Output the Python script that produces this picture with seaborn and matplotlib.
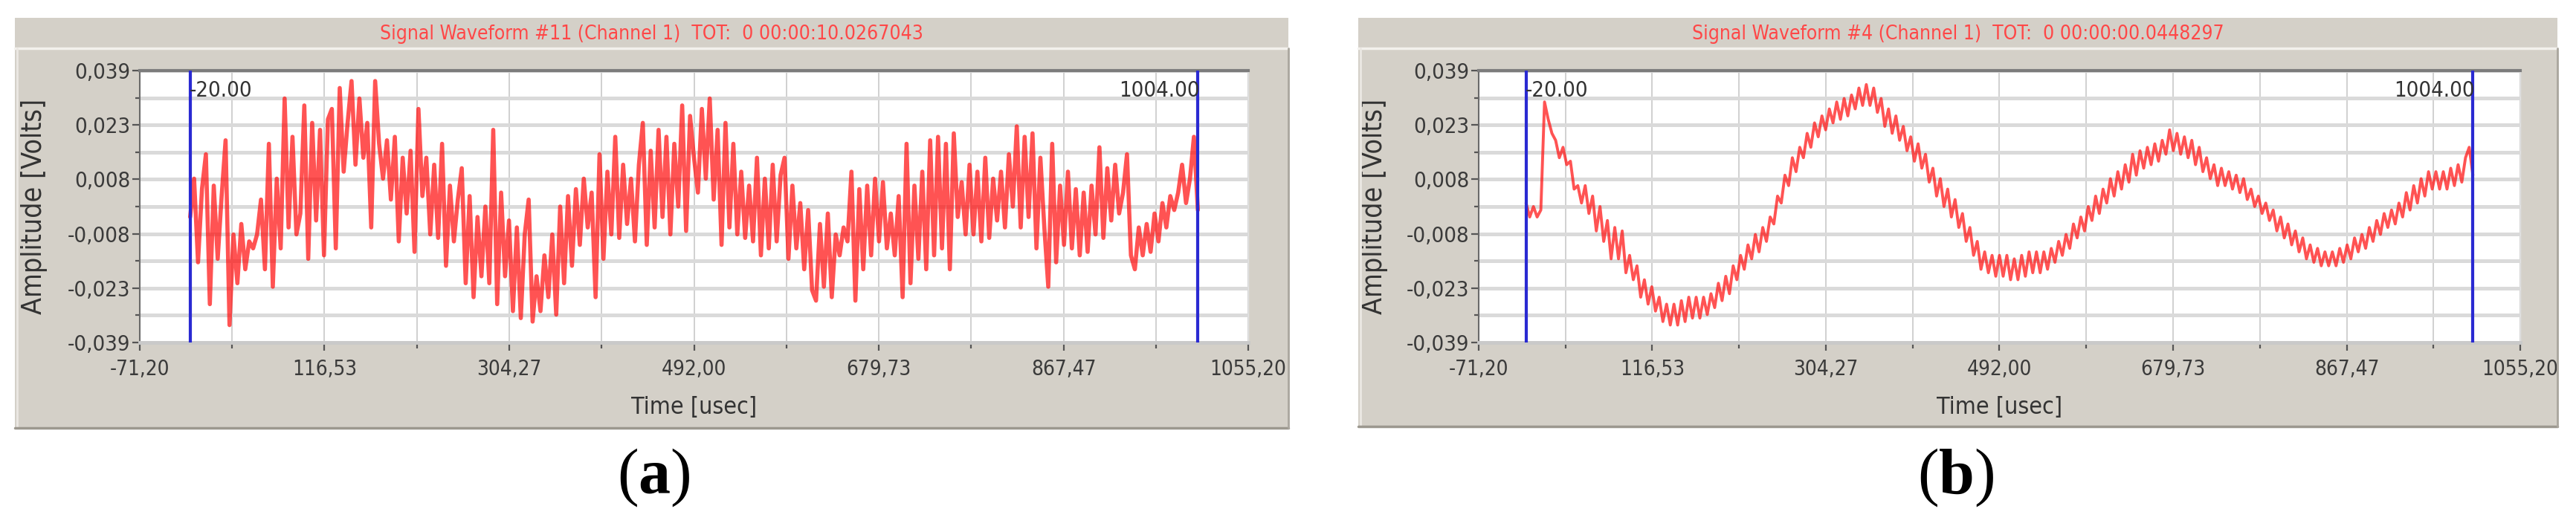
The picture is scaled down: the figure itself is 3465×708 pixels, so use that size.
import numpy as np
import pandas as pd
import seaborn as sns
import matplotlib.pyplot as plt
from matplotlib.patches import Rectangle
from matplotlib.lines import Line2D

W, H = 3466, 708

# cursors (usec)
cursor_start = -20.00
cursor_end = 1004.00

x_ticks = [-71.20, 116.53, 304.27, 492.00, 679.73, 867.47, 1055.20]
x_tick_labels = ['-71,20', '116,53', '304,27', '492,00', '679,73', '867,47', '1055,20']
y_ticks = [-0.039, -0.0234, -0.0078, 0.0078, 0.0234, 0.039]
y_tick_labels = ['-0,039', '-0,023', '-0,008', '0,008', '0,023', '0,039']

titles = ['Signal Waveform #11 (Channel 1)  TOT:  0 00:00:10.0267043',
          'Signal Waveform #4 (Channel 1)  TOT:  0 00:00:00.0448297']
panel_letters = ['a', 'b']

# amplitude in mV, samples between the two cursors (4 usec apart)
amp_a_mv = [
    -3, 8, -16, 5, 15, -28, 6, -15, 3, 19,
    -34, -8, -22, -5, -18, -10, -12, -8, 2, -18,
    18, -23, 8, -12, 31, -6, 20, -8, -2, 29,
    -15, 24, -4, 22, -14, 25, 28, -12, 34, 10,
    24, 36, 12, 31, 14, 24, -6, 36, 18, 8,
    19, 2, 20, -10, 14, -2, 16, -13, 28, 3,
    14, -8, 12, -9, 18, -17, 6, -10, 2, 11,
    -22, 3, -26, -3, -20, 0, -22, 22, -28, 4,
    -20, -4, -30, -6, -32, -8, 2, -33,
    -20, -30, -14, -26, -8, -31, 0, -22, 3, -17,
    5, -11, 8, -6, 4, -26, 15, -15, 10, -8,
    20, -9, 12, -5, 8, -10, 12, 24, -11, 16,
    -6, 22, -3, 20, -8, 18, 0, 29, -7, 26,
    14, 4, 28, 8, 31, 2, 22, -11, 24, -6,
    18, -8, 10, -9, 6, -10, 14, -14, 8, -12,
    12, -10, 9, 14, -15, 6, -12, 1, -18, -1,
    -24, -27, -5, -23, -2, -26, -8, -14, -6, -10,
    10, -27, 5, -18, 6, -14, 8, -10, 7, -12,
    -2, -14, 3, -26, 18, -22, 6, -15, 10, -18,
    19, -14, 20, -12, 18, -18, 21, -3, 7, -8,
    12, -8, 10, -10, 14, -9, 8, -4, 10, -6,
    15, 0, 23, -6, 20, -3, 21, -12, 14, -6,
    -23, 18, -16, 6, -11, 10, -12, 5, -14, 4,
    -13, 6, -8, 17, -9, 11, -4, 12, -2, 4,
    15, -14, -18, -6, -14, -5, -13, -2, -10, 1,
    -6, 3, -1, 4, 12, 1, 8, 20, -1,
]

amp_b_mv = [
    1, -3, 0, -3, -1, 30, 25, 21, 19, 14,
    17, 12, 13, 5, 6, 1, 6, -2, 3, -7,
    0, -10, -4, -15, -6, -15, -7, -19, -14, -21,
    -17, -26, -21, -28, -23, -30, -26, -33, -28, -34,
    -28, -34, -27, -33, -26, -32, -26, -32, -26, -31,
    -25, -29, -22, -27, -20, -25, -17, -21, -14, -18,
    -11, -15, -8, -13, -6, -10, -3, -5, 3, 1,
    9, 6, 14, 10, 17, 14, 21, 17, 24, 20,
    26, 22, 28, 24, 30, 25, 31, 26, 32, 28,
    34, 29, 35, 29, 34, 27, 31, 23, 28, 21,
    26, 19, 23, 16, 20, 13, 18, 11, 15, 7,
    11, 3, 8, 0, 5, -3, 2, -6, -2, -10,
    -6, -14, -10, -18, -13, -19, -14, -20, -14, -20,
    -14, -21, -15, -21, -14, -20, -13, -19, -13, -19,
    -13, -18, -12, -16, -10, -14, -8, -12, -5, -9,
    -3, -7, 0, -4, 3, -2, 5, 1, 8, 3,
    10, 5, 12, 7, 15, 9, 16, 11, 17, 12,
    18, 13, 19, 15, 22, 16, 21, 15, 20, 14,
    19, 12, 17, 10, 14, 8, 12, 6, 11, 6,
    10, 5, 9, 4, 8, 2, 5, 0, 3, -2,
    1, -4, -1, -7, -3, -9, -5, -11, -7, -13,
    -9, -15, -11, -16, -12, -17, -13, -17, -13, -17,
    -12, -16, -11, -15, -9, -13, -8, -12, -6, -10,
    -4, -8, -2, -6, -1, -5, 1, -3, 4, -1,
    6, 1, 8, 3, 10, 5, 10, 5, 10, 5,
    11, 6, 12, 7, 14, 17, 9,
]

sns.set_style("white")
plt.rcParams['font.family'] = ['Liberation Sans Narrow', 'DejaVu Sans']
plt.rcParams['font.stretch'] = 'condensed'
plt.rcParams['mathtext.fontset'] = 'custom'
plt.rcParams['mathtext.rm'] = 'Liberation Serif'
plt.rcParams['mathtext.bf'] = 'Liberation Serif:bold'

fig = plt.figure(figsize=(W / 100, H / 100), dpi=100)
fig.patch.set_facecolor('white')


def fx(p):
    return p / W


def fy(p):
    return 1 - p / H


# pixel layout of each panel: outer box, plot area, y-label x, letter x
panels = [
    dict(box=(20, 24, 1733, 576), plot=(188, 95, 1679, 461), ylab=46, letter=879),
    dict(box=(1827, 24, 3440, 574), plot=(1989, 95, 3390, 461), ylab=1849, letter=2631),
]
signals = [amp_a_mv, amp_b_mv]

beige = '#d4d0c8'
x_minor = [(a + b) / 2 for a, b in zip(x_ticks[:-1], x_ticks[1:])]
y_minor = [(a + b) / 2 for a, b in zip(y_ticks[:-1], y_ticks[1:])]

for i, p in enumerate(panels):
    x0, y0, x1, y1 = p['box']
    fig.add_artist(Rectangle((fx(x0), fy(y1)), (x1 - x0) / W, (y1 - y0) / H,
                             transform=fig.transFigure, facecolor=beige,
                             edgecolor='none', zorder=0))
    # 3d-ish frame lines
    fig.add_artist(Line2D([fx(x0), fx(x1)], [fy(65), fy(65)], color='#f3f1ed', lw=2.5))
    fig.add_artist(Line2D([fx(x0 + 3), fx(x0 + 3)], [fy(65), fy(y1)], color='#ebe8e3', lw=2))
    fig.add_artist(Line2D([fx(x0), fx(x1)], [fy(y1), fy(y1)], color='#9c988f', lw=2.5))
    fig.add_artist(Line2D([fx(x1), fx(x1)], [fy(65), fy(y1)], color='#aaa69e', lw=2))

    fig.text(fx((x0 + x1) / 2), fy(46), titles[i], ha='center', va='center',
             color='#ff4747', fontsize=19)

    px0, py0, px1, py1 = p['plot']
    ax = fig.add_axes([fx(px0), fy(py1), (px1 - px0) / W, (py1 - py0) / H])
    ax.set_facecolor('white')

    amp = np.array(signals[i]) / 1000.0
    t = np.linspace(cursor_start, cursor_end, len(amp))
    df = pd.DataFrame({'Time': t, 'Amplitude': amp})
    sns.lineplot(data=df, x='Time', y='Amplitude', ax=ax, color='#ff1010',
                 alpha=0.72, linewidth=4.0 if i == 0 else 2.8,
                 estimator=None, sort=False, zorder=3)

    ax.set_xlim(x_ticks[0], x_ticks[-1])
    ax.set_ylim(y_ticks[0], y_ticks[-1])
    ax.set_xticks(x_ticks)
    ax.set_xticklabels(x_tick_labels)
    ax.set_xticks(x_minor, minor=True)
    ax.set_yticks(y_ticks)
    ax.set_yticklabels(y_tick_labels)
    ax.set_yticks(y_minor, minor=True)

    ax.set_axisbelow(True)
    ax.yaxis.grid(True, which='both', color='#dadada', lw=3.6)
    ax.xaxis.grid(True, which='both', color='#cdcdcd', lw=1.3)

    ax.spines['top'].set_color('#7c7c7c')
    ax.spines['top'].set_linewidth(3)
    ax.spines['left'].set_color('#6a6a6a')
    ax.spines['left'].set_linewidth(1.5)
    ax.spines['bottom'].set_color('#c9c9c9')
    ax.spines['bottom'].set_linewidth(3.5)
    ax.spines['right'].set_color('#e2e2e2')
    ax.spines['right'].set_linewidth(1)

    ax.tick_params(axis='x', which='major', bottom=True, direction='out', length=8,
                   width=1.6, color='#555555', pad=8, labelsize=20, labelcolor='#3a3a3a')
    ax.tick_params(axis='x', which='minor', bottom=True, direction='out', length=6,
                   width=1.6, color='#555555')
    ax.tick_params(axis='y', which='major', left=True, direction='out', length=7,
                   width=1.6, color='#555555', pad=2, labelsize=21, labelcolor='#3a3a3a')
    ax.tick_params(axis='y', which='minor', left=True, direction='out', length=4,
                   width=1.6, color='#555555')

    ax.set_xlabel('Time [usec]', fontsize=23, color='#333333', va='center')
    ax.xaxis.set_label_coords(0.5, (py1 - 548) / (py1 - py0))
    ax.set_ylabel('Amplitude [Volts]', fontsize=27, color='#333333', va='center')
    ax.yaxis.set_label_coords((p['ylab'] - px0) / (px1 - px0), 0.5)

    for c in (cursor_start, cursor_end):
        ax.axvline(c, color='#2a2ad2', lw=3, zorder=4)
    ax.text(cursor_start - 1, 0.0333, '-20.00', ha='left', va='center',
            fontsize=21, color='#333333', zorder=5)
    ax.text(cursor_end + 2, 0.0333, '1004.00', ha='right', va='center',
            fontsize=21, color='#333333', zorder=5)

    fig.text(fx(p['letter']), fy(643), '($\\mathbf{' + panel_letters[i] + '}$)',
             ha='center', va='center', fontsize=62, family='Liberation Serif',
             color='black')

fig.savefig('out.png', dpi=100, facecolor='white')
